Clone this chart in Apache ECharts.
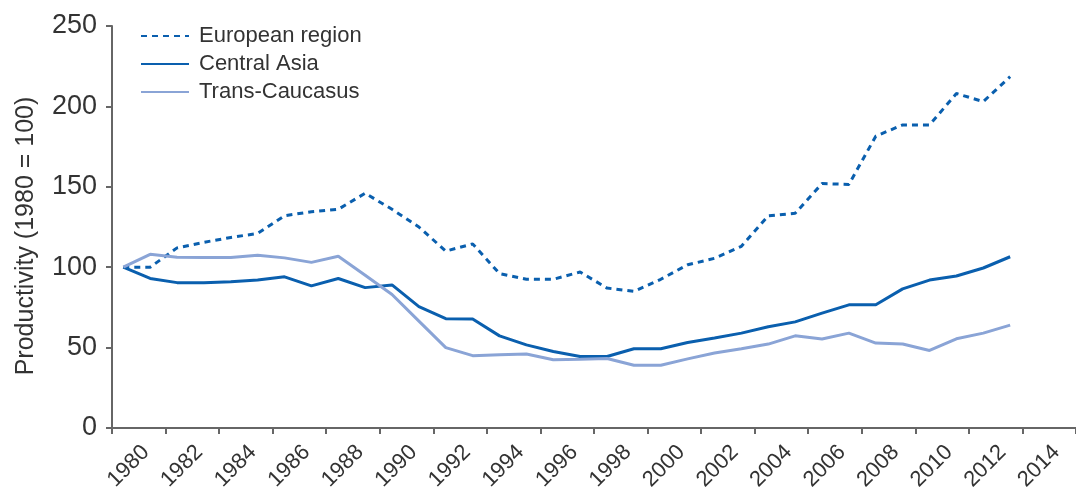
<!DOCTYPE html>
<html>
<head>
<meta charset="utf-8">
<script src="https://cdn.jsdelivr.net/npm/echarts@6/dist/echarts.min.js"></script>
<style>
  html, body { margin: 0; padding: 0; background: #fff; }
  #chart { width: 1076px; height: 498px; }
</style>
</head>
<body>
<div id="chart"></div>
<script>
// años de los datos
const years = [1980, 1981, 1982, 1983, 1984, 1985, 1986, 1987, 1988, 1989,
               1990, 1991, 1992, 1993, 1994, 1995, 1996, 1997, 1998, 1999,
               2000, 2001, 2002, 2003, 2004, 2005, 2006, 2007, 2008, 2009,
               2010, 2011, 2012, 2013];

// etiquetas del eje x (cada dos años)
const tickLabels = ['1980', '1982', '1984', '1986', '1988', '1990', '1992', '1994', '1996',
                    '1998', '2000', '2002', '2004', '2006', '2008', '2010', '2012', '2014'];

const european = [100, 100, 112, 115.5, 118.5, 121, 132, 134.5, 136, 146,
                  136, 125, 110, 114.5, 96, 92.5, 92.5, 97, 87, 85,
                  92.5, 101.5, 105.5, 113, 132, 133.5, 152, 151.5, 181.5, 188.5,
                  188.5, 208, 203, 218.5];

const centralAsia = [100, 93, 90.4, 90.4, 91, 92, 94, 88.4, 93, 87.3,
                     89, 75.5, 68, 67.8, 57.3, 51.7, 47.6, 44.5, 44.5, 49.3,
                     49.3, 53.2, 56, 59, 63, 66, 71.4, 76.6, 76.6, 86.5,
                     92, 94.5, 99.5, 106.5];

const transCaucasus = [100, 108, 106.2, 106, 106, 107.4, 105.8, 103, 106.8, 95,
                       83, 66.5, 50, 45, 45.5, 46, 42.5, 42.8, 43.2, 39,
                       39, 43, 46.6, 49.3, 52.2, 57.3, 55.3, 59, 52.8, 52.2,
                       48.2, 55.5, 59, 64];

const pares = arr => years.map((y, i) => [y, arr[i]]);

const textColor = '#333';
const axisColor = '#666';
const fontFam = '"Liberation Sans", Arial, sans-serif';

const chart = echarts.init(document.getElementById('chart'));

const option = {
    animation: false,
    grid: { left: 112, right: -8, top: 26, bottom: 70 },
    legend: {
        orient: 'vertical',
        left: 135,
        top: 20,
        itemWidth: 48,
        itemHeight: 14,
        itemGap: 6,
        itemStyle: { opacity: 0 },
        textStyle: { color: textColor, fontSize: 22, fontFamily: fontFam, padding: [0, 0, 0, 5] },
        data: ['European region', 'Central Asia', 'Trans-Caucasus']
    },
    xAxis: [
        {
            type: 'category',
            data: tickLabels,
            boundaryGap: true,
            axisLine: { lineStyle: { color: axisColor, width: 2 } },
            axisTick: { show: true, length: 6, lineStyle: { color: axisColor, width: 2 } },
            axisLabel: {
                rotate: 45, color: textColor, fontSize: 22, fontFamily: fontFam,
                margin: 28, interval: 0, padding: [0, -10, 0, 0]
            },
            splitLine: { show: false }
        },
        {
            type: 'value',
            min: 1979.58,
            max: 2015.45,
            show: false,
            splitLine: { show: false }
        }
    ],
    yAxis: {
        type: 'value',
        min: 0,
        max: 250,
        interval: 50,
        name: 'Productivity (1980 = 100)',
        nameLocation: 'middle',
        nameGap: 73,
        nameTextStyle: { color: textColor, fontSize: 25, fontFamily: fontFam, padding: [0, 18, 0, 0] },
        axisLine: { show: true, lineStyle: { color: axisColor, width: 2 } },
        axisTick: { show: true, length: 6, lineStyle: { color: axisColor, width: 2 } },
        axisLabel: { color: textColor, fontSize: 27, fontFamily: fontFam, margin: 15 },
        splitLine: { show: false }
    },
    series: [
        {
            name: 'European region',
            type: 'line',
            xAxisIndex: 1,
            symbol: 'none',
            color: '#0a5fae',
            lineStyle: { width: 3, type: [6, 5], color: '#0a5fae' },
            data: pares(european)
        },
        {
            name: 'Central Asia',
            type: 'line',
            xAxisIndex: 1,
            symbol: 'none',
            color: '#0a5fae',
            lineStyle: { width: 3, color: '#0a5fae' },
            data: pares(centralAsia)
        },
        {
            name: 'Trans-Caucasus',
            type: 'line',
            xAxisIndex: 1,
            symbol: 'none',
            color: '#8aa4d6',
            lineStyle: { width: 3, color: '#8aa4d6' },
            data: pares(transCaucasus)
        }
    ]
};

chart.setOption(option);
</script>
</body>
</html>
